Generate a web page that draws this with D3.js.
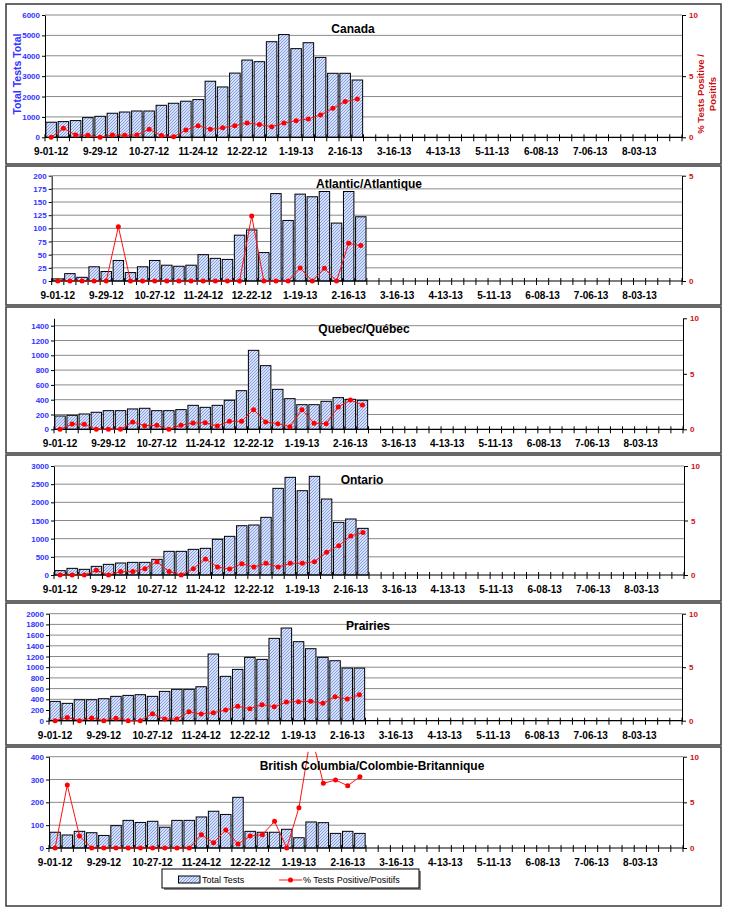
<!DOCTYPE html>
<html>
<head>
<meta charset="utf-8">
<title>Weekly influenza tests</title>
<script src="https://cdn.jsdelivr.net/npm/d3@7"></script>
<style>
  body { margin: 0; background: #fff; }
  text { font-family: Arial, "Liberation Sans", sans-serif; }
</style>
</head>
<body>
<script>
// weekly categories (52 weeks)
var weeks = ["9-01-12","9-08-12","9-15-12","9-22-12","9-29-12","10-06-12","10-13-12","10-20-12",
  "10-27-12","11-03-12","11-10-12","11-17-12","11-24-12","12-01-12","12-08-12","12-15-12",
  "12-22-12","12-29-12","1-05-13","1-12-13","1-19-13","1-26-13","2-02-13","2-09-13",
  "2-16-13","2-23-13","3-02-13","3-09-13","3-16-13","3-23-13","3-30-13","4-06-13",
  "4-13-13","4-20-13","4-27-13","5-04-13","5-11-13","5-18-13","5-25-13","6-01-13",
  "6-08-13","6-15-13","6-22-13","6-29-13","7-06-13","7-13-13","7-20-13","7-27-13",
  "8-03-13","8-10-13","8-17-13","8-24-13"];
var tickLabels = ["9-01-12","9-29-12","10-27-12","11-24-12","12-22-12","1-19-13","2-16-13",
  "3-16-13","4-13-13","5-11-13","6-08-13","7-06-13","8-03-13"];

// Total tests / % positive per region
var canadaTests = [740, 770, 820, 965, 1030, 1180, 1240, 1290, 1290, 1570, 1670, 1770, 1850, 2750, 2470, 3150, 3790, 3710, 4690, 5040, 4350, 4640, 3920, 3140, 3140, 2810];
var canadaPct = [0, 0.74, 0.19, 0.16, 0, 0.19, 0.16, 0.19, 0.65, 0.14, 0.05, 0.6, 0.95, 0.65, 0.79, 0.95, 1.17, 1.04, 0.87, 1.17, 1.36, 1.5, 1.83, 2.37, 2.92, 3.13];

var atlanticTests = [4, 14, 7, 27, 18, 39, 16, 27, 39, 30, 28, 30, 50, 43, 41, 87, 97, 54, 166, 115, 165, 160, 170, 110, 170, 122];
var atlanticPct = [0, 0, 0, 0, 0, 2.58, 0, 0, 0, 0, 0, 0, 0, 0, 0, 0, 3.09, 0, 0, 0, 0.62, 0, 0.6, 0, 1.79, 1.68];

var quebecTests = [180, 189, 207, 230, 252, 252, 275, 284, 252, 252, 266, 324, 297, 324, 392, 522, 1067, 860, 540, 414, 333, 333, 378, 428, 405, 392];
var quebecPct = [0, 0.48, 0.45, 0, 0, 0, 0.66, 0.33, 0.36, 0, 0.36, 0.57, 0.6, 0.3, 0.72, 0.72, 1.77, 0.66, 0.51, 0.24, 1.77, 0.54, 0.51, 2.01, 2.64, 2.19];

var ontarioTests = [120, 183, 156, 238, 293, 330, 348, 348, 431, 651, 651, 706, 734, 981, 1064, 1357, 1376, 1587, 2385, 2688, 2320, 2715, 2091, 1449, 1541, 1284];
var ontarioPct = [0, 0, 0, 0.43, 0, 0.31, 0.31, 0.58, 1.22, 0.31, 0, 0.58, 1.47, 0.73, 0.55, 1.04, 0.73, 1.07, 0.73, 1.07, 1.07, 1.22, 2.08, 2.69, 3.58, 3.91];

var prairiesTests = [361, 324, 392, 392, 411, 455, 473, 486, 455, 548, 586, 586, 635, 1246, 829, 959, 1184, 1146, 1539, 1732, 1477, 1346, 1184, 1121, 984, 984];
var prairiesPct = [0, 0.31, 0, 0.25, 0, 0.22, 0, 0, 0.65, 0.16, 0.16, 0.84, 0.62, 0.75, 1.0, 1.34, 1.12, 1.5, 1.31, 1.74, 1.78, 1.81, 1.62, 2.24, 2.02, 2.43];

var bcTests = [69, 57, 73, 67, 55, 98, 121, 112, 117, 91, 121, 121, 136, 161, 147, 222, 73, 69, 69, 82, 45, 114, 111, 64, 73, 64];
var bcPct = [0, 6.9, 1.31, 0, 0, 0, 0, 0, 0, 0, 0, 0, 1.46, 0.58, 1.97, 0.44, 1.31, 1.46, 2.92, 0, 4.42, 12.5, 7.08, 7.45, 6.82, 7.81];

// panel layout: box = [top, bottom], plot = [left, right, top, bottom]
var panels = [
  { title: "Canada", tests: canadaTests, pct: canadaPct, box: [4, 164], plot: [45, 682, 15, 137.3],
    titleX: 353, titleY: 33, leftMax: 6000, leftStep: 1000, rightMax: 10, rightTicks: [0, 5, 10] },
  { title: "Atlantic/Atlantique", tests: atlanticTests, pct: atlanticPct, box: [166, 305], plot: [51.7, 682, 175.7, 281],
    titleX: 369, titleY: 188, leftMax: 200, leftStep: 25, rightMax: 5, rightTicks: [0, 5] },
  { title: "Quebec/Québec", tests: quebecTests, pct: quebecPct, box: [307, 453], plot: [54, 683, 318.3, 429.3],
    titleX: 364, titleY: 333, leftMax: 1500, leftStep: 200, rightMax: 10, rightTicks: [0, 5, 10] },
  { title: "Ontario", tests: ontarioTests, pct: ontarioPct, box: [455, 601], plot: [54, 684, 466, 575],
    titleX: 362, titleY: 484, leftMax: 3000, leftStep: 500, rightMax: 10, rightTicks: [0, 5, 10] },
  { title: "Prairies", tests: prairiesTests, pct: prairiesPct, box: [603, 745], plot: [49, 682, 613.7, 720.7],
    titleX: 368, titleY: 630, leftMax: 2000, leftStep: 200, rightMax: 10, rightTicks: [0, 5, 10] },
  { title: "British Columbia/Colombie-Britannique", tests: bcTests, pct: bcPct, box: [747, 906], plot: [49, 683, 756.7, 848],
    titleX: 372, titleY: 770, leftMax: 400, leftStep: 100, rightMax: 10, rightTicks: [0, 5, 10] }
];

var svg = d3.select("body").append("svg")
  .attr("width", 730)
  .attr("height", 910);

// hatched bar fill
var defs = svg.append("defs");
var pat = defs.append("pattern")
  .attr("id", "hatch")
  .attr("patternUnits", "userSpaceOnUse")
  .attr("width", 3).attr("height", 3);
pat.append("rect").attr("width", 3).attr("height", 3).attr("fill", "#d6e0f9");
pat.append("path").attr("d", "M-1,1 L1,-1 M0,3 L3,0 M2,4 L4,2")
  .attr("stroke", "#7594e2").attr("stroke-width", 0.85);

var fmt = d3.format("d");

panels.forEach(function(p, pi) {
  var g = svg.append("g");
  var L = p.plot[0], R = p.plot[1], T = p.plot[2], B = p.plot[3];

  // panel frame
  g.append("rect")
    .attr("x", 6).attr("y", p.box[0])
    .attr("width", 715).attr("height", p.box[1] - p.box[0])
    .attr("fill", "none").attr("stroke", "#444").attr("stroke-width", 1.6);

  var x = d3.scaleBand().domain(weeks).range([L, R]).paddingInner(0.14).paddingOuter(0.07);
  var xc = function(i) { return x(weeks[i]) + x.bandwidth() / 2; };
  var yL = d3.scaleLinear().domain([0, p.leftMax]).range([B, T]);
  var yR = d3.scaleLinear().domain([0, p.rightMax]).range([B, T]);
  var leftTicks = d3.range(0, p.leftMax + 1, p.leftStep);

  // gridlines
  g.selectAll(".grid").data(leftTicks.filter(function(d) { return d > 0; }))
    .enter().append("line")
    .attr("x1", L).attr("x2", R)
    .attr("y1", function(d) { return yL(d); })
    .attr("y2", function(d) { return yL(d); })
    .attr("stroke", "#8a8a8a").attr("stroke-width", 1);

  // bars
  g.selectAll(".bar").data(p.tests)
    .enter().append("rect")
    .attr("x", function(d, i) { return x(weeks[i]); })
    .attr("y", function(d) { return yL(d); })
    .attr("width", x.bandwidth())
    .attr("height", function(d) { return B - yL(d); })
    .attr("fill", "url(#hatch)")
    .attr("stroke", "#000").attr("stroke-width", 1);

  // left axis
  var ax = g.append("g")
    .attr("transform", "translate(" + L + ",0)")
    .call(d3.axisLeft(yL).tickValues(leftTicks).tickFormat(fmt).tickSize(3).tickSizeOuter(0).tickPadding(2));
  ax.select(".domain").attr("stroke", "#000");
  ax.selectAll("line").attr("stroke", "#000");
  ax.selectAll("text").attr("fill", "#3333ff").attr("font-weight", "bold").attr("font-size", "8px")
    .style("font-family", "Arial, 'Liberation Sans', sans-serif");

  // right axis
  var ar = g.append("g")
    .attr("transform", "translate(" + R + ",0)")
    .call(d3.axisRight(yR).tickValues(p.rightTicks).tickFormat(fmt).tickSize(4).tickSizeOuter(0).tickPadding(3));
  ar.select(".domain").attr("stroke", "#000");
  ar.selectAll("line").attr("stroke", "#000");
  ar.selectAll("text").attr("fill", "#d01010").attr("font-weight", "bold").attr("font-size", "8px")
    .style("font-family", "Arial, 'Liberation Sans', sans-serif");

  // bottom axis: line, week boundary ticks, labels
  g.append("line").attr("x1", L).attr("x2", R).attr("y1", B).attr("y2", B)
    .attr("stroke", "#000").attr("stroke-width", 1.2);
  var step = (R - L) / weeks.length;
  g.selectAll(".wtick").data(d3.range(weeks.length + 1))
    .enter().append("line")
    .attr("x1", function(d) { return L + d * step; })
    .attr("x2", function(d) { return L + d * step; })
    .attr("y1", B - 3).attr("y2", B + 4)
    .attr("stroke", "#000").attr("stroke-width", 1);
  var ab = g.append("g")
    .attr("transform", "translate(0," + B + ")")
    .call(d3.axisBottom(x).tickValues(tickLabels).tickSize(0).tickPadding(11));
  ab.select(".domain").remove();
  ab.selectAll("text").attr("fill", "#000").attr("font-weight", "bold").attr("font-size", "10px")
    .style("font-family", "Arial, 'Liberation Sans', sans-serif");

  // % positive line, clipped to plot area
  defs.append("clipPath").attr("id", "clip" + pi)
    .append("rect").attr("x", L).attr("y", T - 5).attr("width", R - L).attr("height", B - T + 10);
  var line = d3.line()
    .x(function(d, i) { return xc(i); })
    .y(function(d) { return yR(d); });
  var lg = g.append("g").attr("clip-path", "url(#clip" + pi + ")");
  lg.append("path").datum(p.pct)
    .attr("d", line)
    .attr("fill", "none").attr("stroke", "#ff1010").attr("stroke-width", 1);
  lg.selectAll(".pt").data(p.pct)
    .enter().append("circle")
    .attr("cx", function(d, i) { return xc(i); })
    .attr("cy", function(d) { return yR(d); })
    .attr("r", 2.5)
    .attr("fill", "#ff0000");

  // title
  g.append("text")
    .attr("x", p.titleX).attr("y", p.titleY)
    .attr("text-anchor", "middle")
    .attr("font-size", "12px").attr("font-weight", "bold")
    .attr("fill", "#000")
    .text(p.title);

  if (pi === 0) {
    g.append("text")
      .attr("transform", "translate(21,74) rotate(-90)")
      .attr("text-anchor", "middle")
      .attr("font-size", "10.5px").attr("font-weight", "bold")
      .attr("fill", "#3333ff")
      .text("Total Tests Total");
    g.append("text")
      .attr("transform", "translate(704,94) rotate(-90)")
      .attr("text-anchor", "middle")
      .attr("font-size", "9.5px").attr("font-weight", "bold")
      .attr("fill", "#cc1010")
      .text("% Tests Positive /");
    g.append("text")
      .attr("transform", "translate(716,94) rotate(-90)")
      .attr("text-anchor", "middle")
      .attr("font-size", "9.5px").attr("font-weight", "bold")
      .attr("fill", "#cc1010")
      .text("Positifs");
  }
});

// legend
var leg = svg.append("g");
leg.append("rect").attr("x", 164).attr("y", 871).attr("width", 257).attr("height", 19).attr("fill", "#888");
leg.append("rect").attr("x", 162).attr("y", 869).attr("width", 257).attr("height", 19)
  .attr("fill", "#fff").attr("stroke", "#000").attr("stroke-width", 1);
leg.append("rect").attr("x", 178.5).attr("y", 876).attr("width", 21.5).attr("height", 7)
  .attr("fill", "url(#hatch)").attr("stroke", "#000").attr("stroke-width", 1);
leg.append("text").attr("x", 202).attr("y", 883).attr("font-size", "9px").attr("fill", "#000").text("Total Tests");
leg.append("line").attr("x1", 279).attr("x2", 302).attr("y1", 880).attr("y2", 880)
  .attr("stroke", "#ff1010").attr("stroke-width", 1);
leg.append("circle").attr("cx", 290.5).attr("cy", 880).attr("r", 2.5).attr("fill", "#ff0000");
leg.append("text").attr("x", 303).attr("y", 883).attr("font-size", "9px").attr("fill", "#000").text("% Tests Positive/Positifs");
</script>
</body>
</html>
